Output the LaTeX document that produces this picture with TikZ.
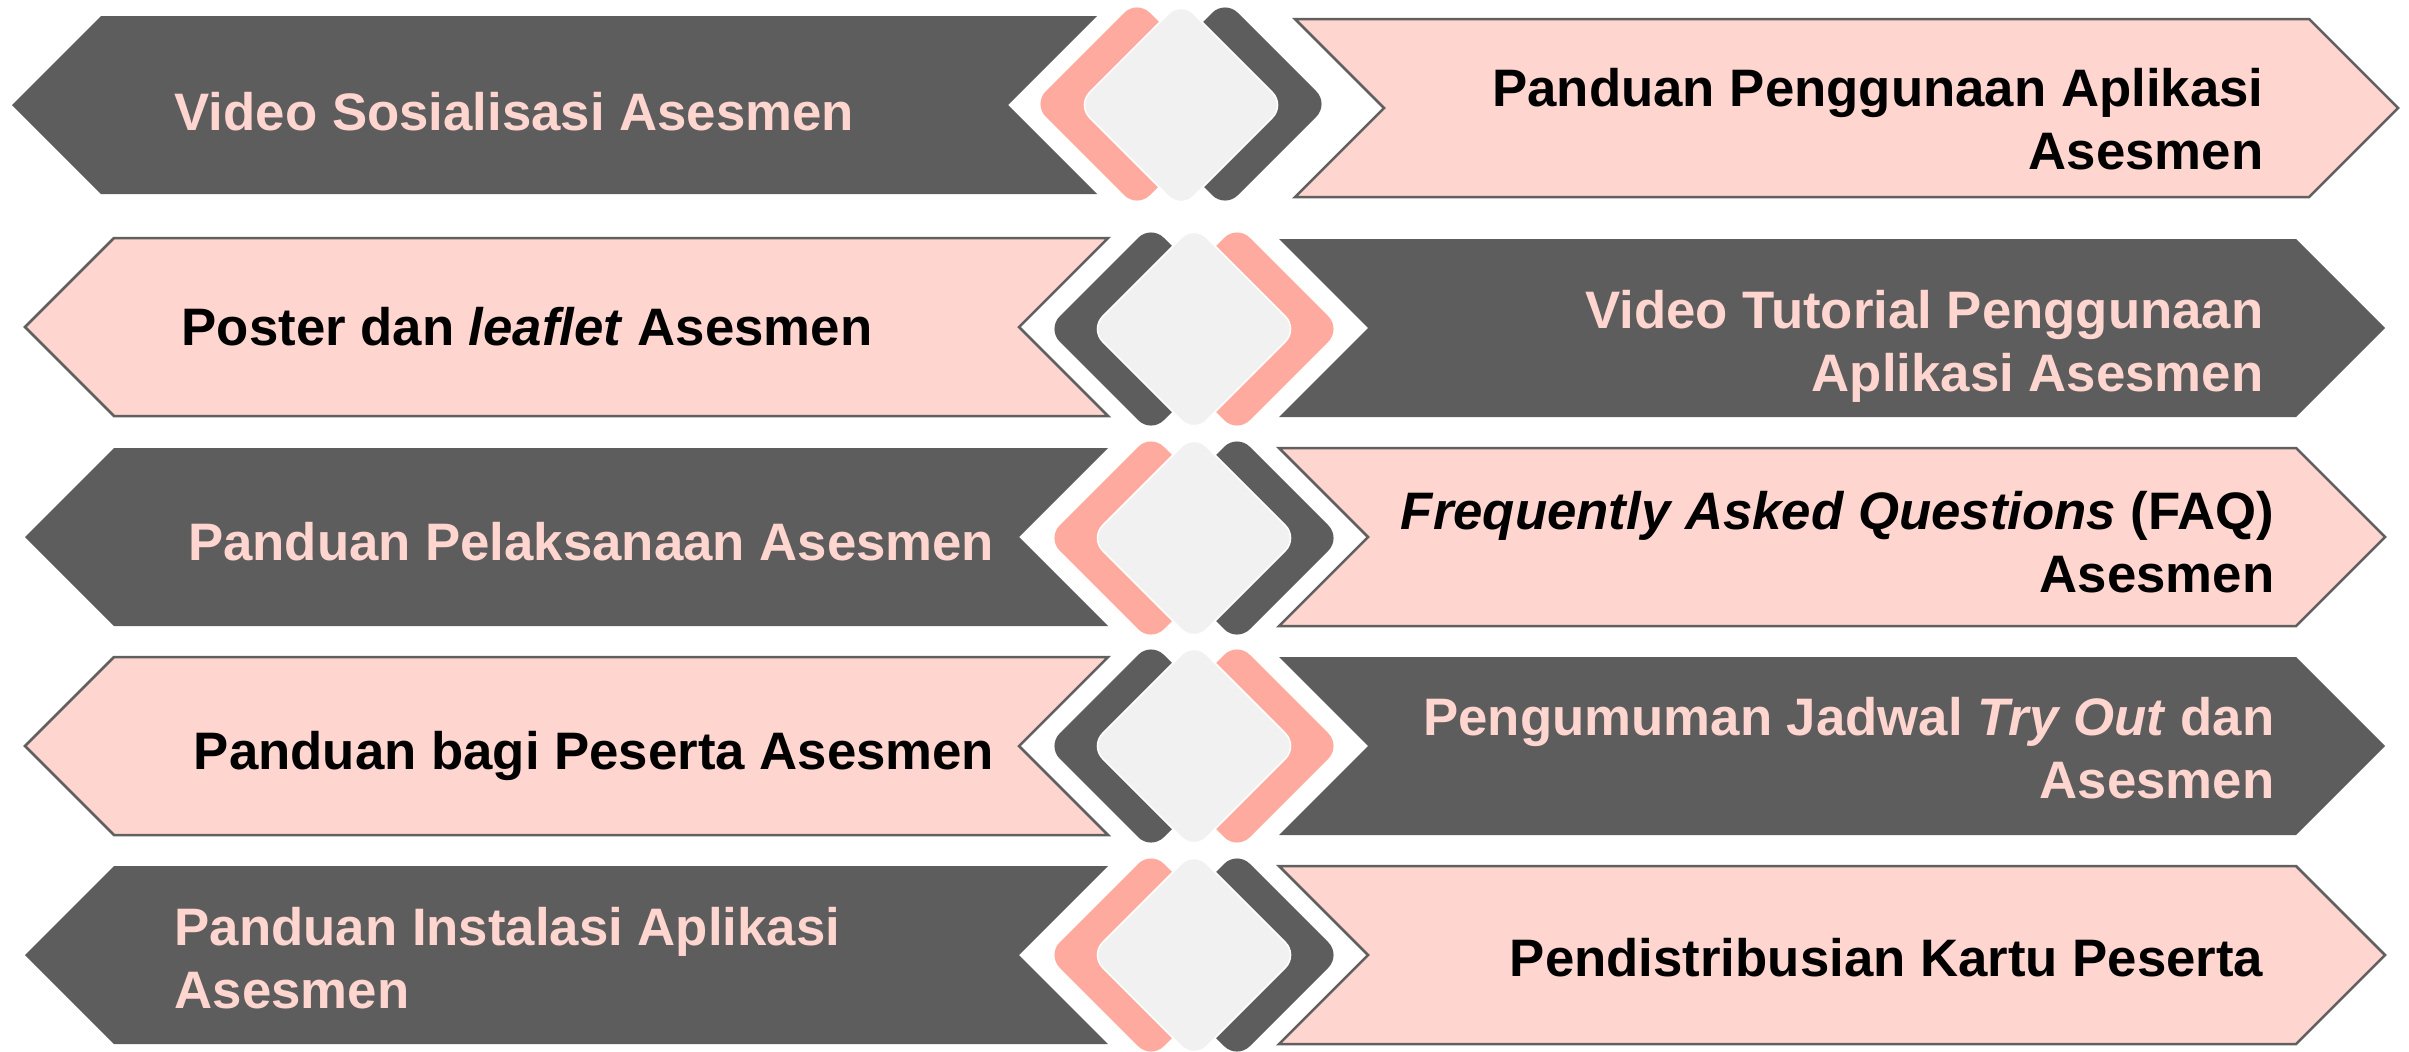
\documentclass[tikz,border=0pt]{standalone}
\usepackage{fontspec}
\setmainfont{Liberation Sans}
\definecolor{darkg}{RGB}{93,93,93}
\definecolor{pinkl}{RGB}{255,213,207}
\definecolor{salmon}{RGB}{255,170,158}
\definecolor{lgray}{RGB}{241,241,241}
\definecolor{bordg}{RGB}{96,96,96}
\newcommand{\LArrow}[4]{\path[#1] (#2,#4) -- ({#2+89},{#4-89}) -- (#3,{#4-89}) -- ({#3-89},#4) -- (#3,{#4+89}) -- ({#2+89},{#4+89}) -- cycle;}
\newcommand{\RArrow}[4]{\path[#1] (#2,{#4-89}) -- ({#3-89},{#4-89}) -- (#3,#4) -- ({#3-89},{#4+89}) -- (#2,{#4+89}) -- ({#2+89},#4) -- cycle;}
\newcommand{\Dia}[3]{\path[#1, rounded corners=0.18cm] (#2,{#3-104}) -- ({#2+104},#3) -- (#2,{#3+104}) -- ({#2-104},#3) -- cycle;}
\begin{document}
\begin{tikzpicture}[x=0.01cm,y=-0.01cm,
  darkarrow/.style={fill=darkg},
  pinkarrow/.style={fill=pinkl, draw=bordg, line width=0.025cm, line join=miter},
  saldia/.style={fill=salmon},
  darkdia/.style={fill=darkg},
  lightdia/.style={fill=lgray, draw=white, line width=0.015cm},
  lbl/.style={inner sep=0pt, font=\fontsize{15}{17.9}\selectfont\bfseries},
  ondark/.style={lbl, text=pinkl},
  onpink/.style={lbl, text=black}]
\useasboundingbox (0,0) rectangle (2409,1051);
% row 1
\LArrow{darkarrow}{12}{1097}{105}
\RArrow{pinkarrow}{1295}{2398}{108}
\Dia{saldia}{1137}{104}
\Dia{darkdia}{1225}{104}
\Dia{lightdia}{1181}{105}
% row 2
\LArrow{pinkarrow}{25}{1108}{327}
\RArrow{darkarrow}{1279}{2385}{328}
\Dia{darkdia}{1151}{329}
\Dia{saldia}{1237}{329}
\Dia{lightdia}{1194}{329}
% row 3
\LArrow{darkarrow}{25}{1108}{537}
\RArrow{pinkarrow}{1279}{2385}{537}
\Dia{saldia}{1151}{538}
\Dia{darkdia}{1237}{538}
\Dia{lightdia}{1194}{538}
% row 4
\LArrow{pinkarrow}{25}{1108}{746}
\RArrow{darkarrow}{1279}{2385}{746}
\Dia{darkdia}{1151}{746}
\Dia{saldia}{1237}{746}
\Dia{lightdia}{1194}{746}
% row 5
\LArrow{darkarrow}{25}{1108}{955}
\RArrow{pinkarrow}{1279}{2385}{955}
\Dia{saldia}{1151}{955}
\Dia{darkdia}{1237}{955}
\Dia{lightdia}{1194}{955}
% texts
\node[ondark, anchor=base west] (t1l) at (174,130) {Video Sosialisasi Asesmen};
\node[onpink, anchor=base east, align=right] (t1r) at (2264,169) {Panduan Penggunaan Aplikasi\\Asesmen};
\node[onpink, anchor=base west] (t2l) at (181,345) {Poster dan \textit{leaflet} Asesmen};
\node[ondark, anchor=base east, align=right] (t2r) at (2264,391) {Video Tutorial Penggunaan\\Aplikasi Asesmen};
\node[ondark, anchor=base east] (t3l) at (995,560) {Panduan Pelaksanaan Asesmen};
\node[onpink, anchor=base east, align=right] (t3r) at (2275,592) {\textit{Frequently Asked Questions} (FAQ)\\Asesmen};
\node[onpink, anchor=base east] (t4l) at (995,769) {Panduan bagi Peserta Asesmen};
\node[ondark, anchor=base east, align=right] (t4r) at (2275,798) {Pengumuman Jadwal \textit{Try Out} dan\\Asesmen};
\node[ondark, anchor=base west, align=left] (t5l) at (174,1008) {Panduan Instalasi Aplikasi\\Asesmen};
\node[onpink, anchor=base east] (t5r) at (2264,976) {Pendistribusian Kartu Peserta};
\end{tikzpicture}
\end{document}
